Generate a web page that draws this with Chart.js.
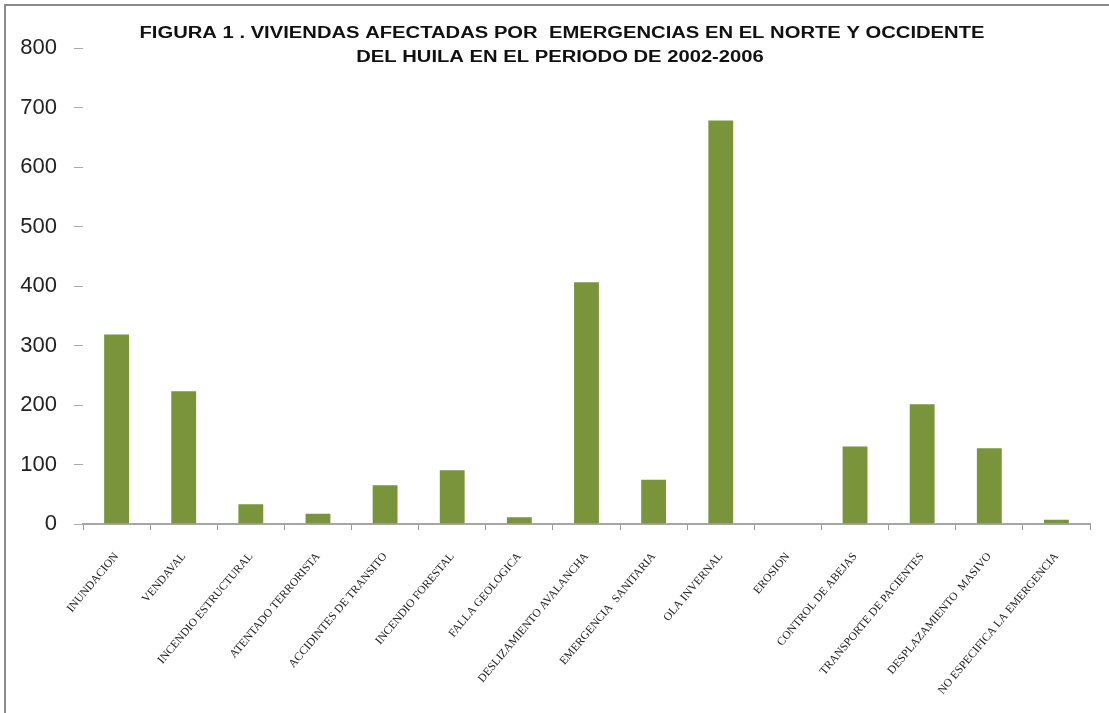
<!DOCTYPE html>
<html>
<head>
<meta charset="utf-8">
<script src="https://cdn.jsdelivr.net/npm/chart.js@4/dist/chart.umd.min.js"></script>
<style>
    body { margin: 0; background: #fff; }
    #wrap { position: relative; width: 1109px; height: 713px; }
    #frame {
        position: absolute; left: 4px; top: 4px; right: 0; bottom: 0;
        border-top: 2px solid #8c8c8c; border-left: 2px solid #8c8c8c;
        pointer-events: none;
    }
</style>
</head>
<body>
<div id="wrap">
    <canvas id="viviendas"></canvas>
    <div id="frame"></div>
</div>
<script>
let categories = [
    'INUNDACION', 'VENDAVAL', 'INCENDIO ESTRUCTURAL', 'ATENTADO TERRORISTA',
    'ACCIDINTES DE TRANSITO', 'INCENDIO FORESTAL', 'FALLA GEOLOGICA',
    'DESLIZAMIENTO AVALANCHA', 'EMERGENCIA  SANITARIA', 'OLA INVERNAL', 'EROSION',
    'CONTROL DE ABEJAS', 'TRANSPORTE DE PACIENTES', 'DESPLAZAMIENTO  MASIVO',
    'NO ESPECIFICA LA EMERGENCIA'
];
let viviendas = [320, 225, 35, 19, 67, 92, 13, 408, 76, 680, 0, 132, 203, 129, 9];
let yTicks = [0, 100, 200, 300, 400, 500, 600, 700, 800];
let titleLines = [
    'FIGURA 1 . VIVIENDAS AFECTADAS POR  EMERGENCIAS EN EL NORTE Y OCCIDENTE',
    'DEL HUILA EN EL PERIODO DE 2002-2006'
];

// title sits over the top of the plot, so draw it ourselves (wide, like the original)
let titlePlugin = {
    id: 'overTitle',
    afterDraw: function (chart) {
        let ctx = chart.ctx;
        ctx.save();
        ctx.font = 'bold 16px "Liberation Sans", Arial, sans-serif';
        ctx.fillStyle = '#111';
        ctx.textAlign = 'center';
        ctx.textBaseline = 'middle';
        let stretch = 845 / ctx.measureText(titleLines[0]).width;
        ctx.translate(562, 0);
        ctx.scale(stretch, 1);
        ctx.fillText(titleLines[0], 0, 34);
        ctx.fillText(titleLines[1], -2 / stretch, 58);
        ctx.restore();
    }
};

let canvas = document.getElementById('viviendas');
let chart = new Chart(canvas, {
    type: 'bar',
    data: {
        labels: categories,
        datasets: [{
            data: viviendas,
            backgroundColor: '#7a943c',
            borderColor: 'rgba(255,255,255,0.5)',
            borderWidth: 1,
            barPercentage: 0.4,
            categoryPercentage: 1.0
        }]
    },
    options: {
        responsive: true,
        maintainAspectRatio: false,
        animation: false,
        layout: { padding: { left: 5, right: 19, top: 48, bottom: 4 } },
        plugins: {
            legend: { display: false },
            tooltip: { enabled: false }
        },
        scales: {
            x: {
                afterFit: function (scale) { scale.height = 185; },
                border: { color: '#a6a6a6', width: 2 },
                grid: { drawOnChartArea: false, tickLength: 6, color: '#999' },
                ticks: {
                    autoSkip: false,
                    minRotation: 50,
                    maxRotation: 50,
                    padding: 20,
                    color: '#222',
                    font: { family: '"Liberation Serif", "Times New Roman", serif', size: 11.5 }
                }
            },
            y: {
                min: 0,
                max: 800,
                afterFit: function (scale) { scale.width = 78; },
                afterBuildTicks: function (scale) {
                    scale.ticks = yTicks.map(function (v) { return { value: v }; });
                },
                border: { display: false },
                grid: { drawOnChartArea: false, tickLength: 9, color: '#aaa' },
                ticks: {
                    padding: 17,
                    color: '#222',
                    font: { family: '"Liberation Sans", Arial, sans-serif', size: 22 }
                }
            }
        }
    },
    plugins: [titlePlugin]
});
</script>
</body>
</html>
